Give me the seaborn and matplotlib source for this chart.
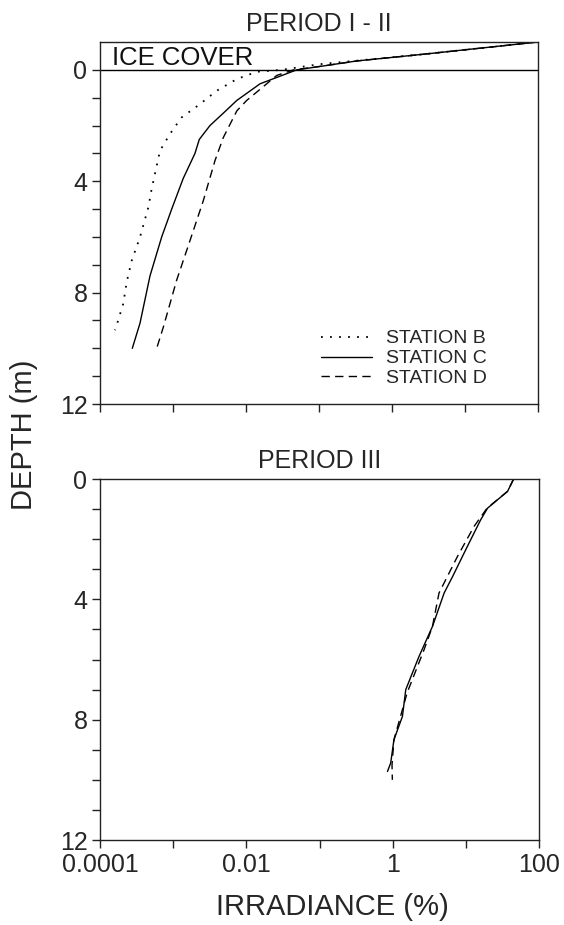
import matplotlib
matplotlib.use("Agg")
import matplotlib.pyplot as plt
from matplotlib.ticker import NullFormatter
import pandas as pd
import seaborn as sns

# ---------------- data ----------------
# PERIOD I - II  (depth in m, negative = inside ice cover; irradiance in %)
depth_b12 = [-1.0, -0.56, -0.33, -0.2, 0.0, 0.07, 0.33, 0.75, 1.23, 1.71, 2.3, 2.9,
             4.28, 4.93, 6.01, 6.85, 7.62, 8.4, 9.24, 9.35]
irr_b12 = [100, 2.7, 0.33, 0.1, 0.0308, 0.014, 0.0075, 0.00397, 0.00234, 0.00131,
           0.00091, 0.000664, 0.00051, 0.00046, 0.000353, 0.000272, 0.000232,
           0.000208, 0.000166, 0.00016]

depth_c12 = [-1.0, -0.56, -0.32, -0.14, 0.0, 0.5, 1.1, 1.5, 2.0, 2.5, 3.0, 3.9, 5.0,
             6.0, 7.4, 9.1, 10.0]
irr_c12 = [100, 2.69, 0.33, 0.115, 0.0495, 0.0156, 0.00747, 0.00515, 0.00321,
           0.00229, 0.0020, 0.00138, 0.00096, 0.0007, 0.000484, 0.000353, 0.000277]

depth_d12 = [-1.0, -0.56, -0.32, -0.14, 0.0, 0.2, 1.1, 1.47, 2.43, 3.26, 4.7, 6.13,
             7.56, 9.24, 10.0]
irr_d12 = [100, 2.69, 0.33, 0.115, 0.045, 0.0264, 0.0102, 0.0075, 0.00489, 0.00376,
           0.0026, 0.00171, 0.00112, 0.000737, 0.000598]

# PERIOD III
depth_c3 = [0, 0.41, 0.97, 1.35, 2.24, 3.24, 3.79, 4.9, 5.9, 7.0, 7.89, 8.67, 9.44, 9.72]
irr_c3 = [45, 37.2, 19.8, 16.0, 10.5, 6.6, 5.05, 3.5, 2.29, 1.51, 1.36, 1.04, 0.94, 0.85]

depth_d3 = [0, 0.41, 0.97, 1.57, 2.57, 3.79, 4.9, 5.67, 7.1, 8.67, 9.5, 10.0]
irr_d3 = [45, 37.2, 19.5, 13.0, 7.7, 4.3, 3.5, 2.69, 1.58, 1.04, 0.98, 0.99]

stations = ["STATION B", "STATION C", "STATION D"]
xtick_vals = [0.0001, 0.01, 1, 100]
xtick_labels = ["0.0001", "0.01", "1", "100"]
xminor_vals = [0.001, 0.1, 10]
ytick_vals = [0, 4, 8, 12]
ytick_labels = ["0", "4", "8", "12"]
yminor_vals = [1, 2, 3, 5, 6, 7, 9, 10, 11]

# ---------------- style ----------------
sns.set_style("ticks")
plt.rcParams["font.family"] = ["Liberation Sans", "DejaVu Sans"]

styles = {
    "STATION B": dict(linestyle=(0, (1, 4)), lw=1.3),
    "STATION C": dict(linestyle="-", lw=1.0),
    "STATION D": dict(linestyle=(0, (6, 3.8)), lw=1.0),
}

W, H = 564, 925
fig = plt.figure(figsize=(W / 100, H / 100), dpi=100)

def frac_axes(x0, y0, x1, y1):
    return fig.add_axes([x0 / W, 1 - y1 / H, (x1 - x0) / W, (y1 - y0) / H])

ax1 = frac_axes(100, 42, 538, 404)
ax2 = frac_axes(100, 479, 539, 840)

def draw(ax, depth, irr, name):
    df = pd.DataFrame({"irr": irr, "depth": depth})
    sns.lineplot(data=df, x="irr", y="depth", ax=ax, sort=False, estimator=None,
                 color="black", label=name, **styles[name])

draw(ax1, depth_b12, irr_b12, "STATION B")
draw(ax1, depth_c12, irr_c12, "STATION C")
draw(ax1, depth_d12, irr_d12, "STATION D")
draw(ax2, depth_c3, irr_c3, "STATION C")
draw(ax2, depth_d3, irr_d3, "STATION D")

for ax, ylim in ((ax1, (12, -1)), (ax2, (12, 0))):
    ax.set_xscale("log")
    ax.set_xlim(0.0001, 100)
    ax.set_ylim(*ylim)
    ax.set_xticks(xtick_vals)
    ax.set_xticks(xminor_vals, minor=True)
    ax.xaxis.set_minor_formatter(NullFormatter())
    ax.set_yticks(ytick_vals)
    ax.set_yticklabels(ytick_labels)
    ax.set_yticks(yminor_vals, minor=True)
    ax.yaxis.set_minor_formatter(NullFormatter())
    ax.set_xlabel("")
    ax.set_ylabel("")
    for sp in ax.spines.values():
        sp.set_visible(True)
        sp.set_linewidth(1.0)
        sp.set_color("#222222")
    ax.tick_params(which="both", direction="out", length=6, width=1.0,
                   color="#222222", labelsize=18, pad=3, top=False, right=False)

ax1.set_xticklabels([])
ax2.set_xticklabels(xtick_labels)
ax1.tick_params(axis="x", which="both", labelbottom=False)

ax1.axhline(0, color="black", lw=1.0)
ax1.text(12 / 438, 1 - (65 - 42) / 362, "ICE COVER", transform=ax1.transAxes,
         fontsize=18.5, ha="left", va="baseline", color="#111111")

ax1.set_title("PERIOD I - II", fontsize=18, pad=8)
ax2.set_title("PERIOD III", fontsize=18, pad=8)

leg = ax1.legend(loc="upper left", bbox_to_anchor=(0.505, 0.205), frameon=False,
                 fontsize=14, handlelength=2.6, handletextpad=0.75,
                 labelspacing=0.12, borderpad=0, borderaxespad=0)
if ax2.get_legend() is not None:
    ax2.get_legend().remove()

fig.text(332 / W, 1 - 907 / H, "IRRADIANCE (%)", fontsize=21, ha="center",
         va="center")
fig.text(24 / W, 1 - 435 / H, "DEPTH (m)", fontsize=21, ha="center",
         va="center", rotation=90)

fig.savefig("out.png", dpi=100)
